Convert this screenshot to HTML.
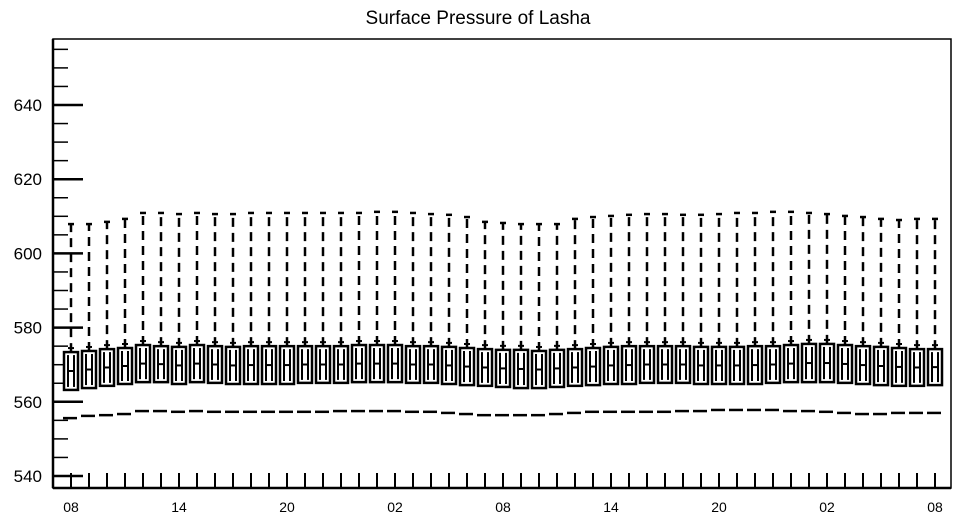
<!DOCTYPE html>
<html><head><meta charset="utf-8"><style>
body{margin:0;background:#fff}
svg{display:block;font-family:"Liberation Sans",Arial,sans-serif}
</style></head><body>
<svg id="chart" width="958" height="518">
<text x="478" y="24" text-anchor="middle" font-size="19">Surface Pressure of Lasha</text>
<g id="plot"></g>
</svg>
<script>
const xLabels=["08","14","20","02","08","14","20","02","08"];
const yTicks=[540,560,580,600,620,640];
const maxV=[607.9,607.9,608.5,609.3,610.9,610.9,610.6,610.9,610.6,610.6,610.9,610.9,610.9,610.9,610.9,610.9,610.9,611.2,611.2,610.9,610.6,610.4,609.8,608.5,608.2,607.9,607.9,607.9,609.3,609.8,610.1,610.4,610.6,610.6,610.4,610.4,610.6,610.9,610.9,611.2,611.2,610.9,610.6,610.1,609.8,609.3,609.0,609.3,609.3];
const q3V=[573.4,573.7,574.2,574.5,575.3,575.0,574.8,575.3,575.0,574.8,575.0,575.0,575.0,575.0,575.0,575.0,575.3,575.3,575.3,575.0,575.0,574.8,574.5,574.2,574.0,574.0,573.7,574.0,574.2,574.5,574.8,575.0,575.0,575.0,575.0,574.8,574.8,574.8,575.0,575.0,575.3,575.6,575.6,575.3,575.0,574.8,574.5,574.2,574.2];
const q1V=[563.2,563.7,564.3,564.8,565.3,565.3,564.8,565.3,565.1,564.8,564.8,564.8,564.8,565.1,565.1,565.1,565.3,565.3,565.3,565.1,565.1,564.8,564.5,564.3,564.0,563.7,563.7,564.0,564.3,564.5,564.8,564.8,565.1,565.1,565.1,564.8,564.8,564.8,564.8,565.1,565.3,565.3,565.3,565.1,564.8,564.5,564.3,564.3,564.5];
const minV=[555.6,556.2,556.4,556.7,557.5,557.5,557.3,557.5,557.3,557.3,557.3,557.3,557.3,557.3,557.3,557.5,557.5,557.5,557.5,557.3,557.3,557.0,556.7,556.4,556.4,556.4,556.4,556.7,557.0,557.3,557.3,557.3,557.3,557.3,557.5,557.5,557.8,557.8,557.8,557.8,557.5,557.5,557.3,557.0,556.7,556.7,557.0,557.0,557.0];
const NS="http://www.w3.org/2000/svg";
const L=53,R=951,T=39,B=488;
const y=v=>476-(v-540)*3.71;
const x=i=>71+i*18;
const g=document.getElementById('plot');
function el(t,a){const e=document.createElementNS(NS,t);for(const k in a)e.setAttribute(k,a[k]);g.appendChild(e);return e;}
let f=el('rect',{x:L,y:T,width:R-L,height:B-T,fill:'none',stroke:'#000','stroke-width':1.5});


el('line',{x1:L,y1:T,x2:L,y2:B,stroke:'#000','stroke-width':2.5});
el('line',{x1:L,y1:B,x2:R,y2:B,stroke:'#000','stroke-width':2.5});
for(let v=540;v<=655;v+=5){
  const major=yTicks.includes(v);
  const t=el('line',{x1:L,y1:y(v),x2:L+(major?30:15),y2:y(v),stroke:'#000','stroke-width':major?2.5:1.5});
  
  
}
yTicks.forEach(v=>{
  const t=el('text',{x:42,y:y(v)+6,'text-anchor':'end','font-size':17});
  t.textContent=v;
  
  
});
for(let i=0;i<maxV.length;i++){
  const t=el('line',{x1:x(i),y1:B,x2:x(i),y2:B-15,stroke:'#000','stroke-width':2});
  
  
}
xLabels.forEach((s,k)=>{
  const t=el('text',{x:x(k*6),y:512,'text-anchor':'middle','font-size':14});
  t.textContent=s;
  
  
});
for(let i=0;i<maxV.length;i++){
  const cx=x(i),w=14;
  const wh=el('line',{x1:cx,y1:y(q3V[i]),x2:cx,y2:y(maxV[i]),stroke:'#000','stroke-width':2.5,'stroke-dasharray':'9,6'});
  
  
  const cap=el('line',{x1:cx-3,y1:y(maxV[i]),x2:cx+3,y2:y(maxV[i]),stroke:'#000','stroke-width':2.5});
  
  
  el('line',{x1:cx-3,y1:y(q3V[i])-4,x2:cx+3,y2:y(q3V[i])-4,stroke:'#000','stroke-width':2});
  const bx=el('rect',{x:cx-w/2,y:y(q3V[i]),width:w,height:y(q1V[i])-y(q3V[i]),fill:'#fff',stroke:'#000','stroke-width':2.5});
  
  
  const m=(q1V[i]+q3V[i])/2;
  el('line',{x1:cx-3,y1:y(q3V[i])+3,x2:cx-3,y2:y(q1V[i])-3,stroke:'#000','stroke-width':2});
  el('line',{x1:cx+3,y1:y(q3V[i])+3,x2:cx+3,y2:y(q1V[i])-3,stroke:'#000','stroke-width':2});
  el('line',{x1:cx-3,y1:y(m),x2:cx+3,y2:y(m),stroke:'#000','stroke-width':2});
  const mn=el('line',{x1:cx-8,y1:y(minV[i]),x2:cx+6,y2:y(minV[i]),stroke:'#000','stroke-width':2.5});
  
  
}
</script>
</body></html>
